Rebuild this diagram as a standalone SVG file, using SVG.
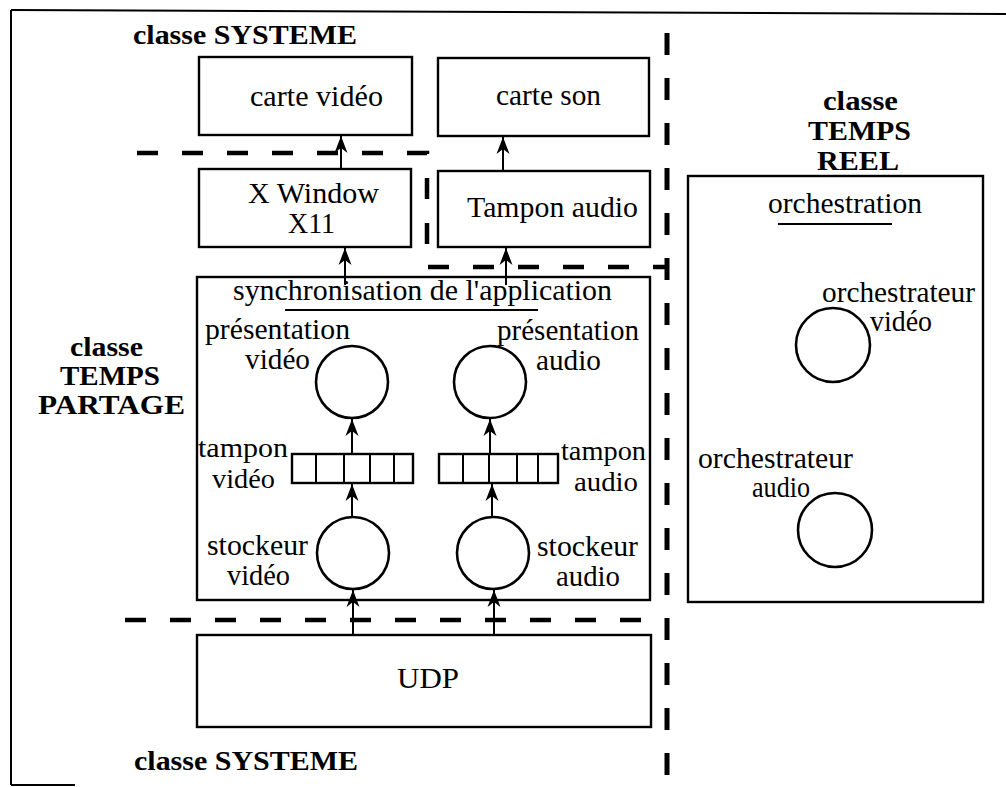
<svg xmlns="http://www.w3.org/2000/svg" width="1006" height="787" viewBox="0 0 1006 787">
<style>
text{font-family:"Liberation Serif","Times New Roman",serif;fill:#000}
.r{font-size:29px}
.s{font-size:28px}
.b{font-size:28px;font-weight:bold}
.box{fill:none;stroke:#000;stroke-width:2.4}
.circ{fill:none;stroke:#000;stroke-width:2.6}
.ln{fill:none;stroke:#000;stroke-width:2}
.arr{fill:none;stroke:#000;stroke-width:2;marker-end:url(#ah)}
.dash{fill:none;stroke:#000;stroke-width:4.5;stroke-dasharray:21 24}
.vdash{fill:none;stroke:#000;stroke-width:5;stroke-dasharray:22 23}
</style>
<defs>
<marker id="ah" markerUnits="userSpaceOnUse" markerWidth="20" markerHeight="14" viewBox="-18 -7 20 14" refX="0" refY="0" orient="auto">
<path d="M0,0 L-17,-6.5 L-12,0 L-17,6.5 Z" fill="#000"/>
</marker>
</defs>
<rect width="1006" height="787" fill="#fff"/>
<g id="frame">
<path class="ln" d="M11,10 L1006,14" stroke-width="2.5"/>
<path class="ln" d="M11,10 V785" stroke-width="2.5"/>
<path class="ln" d="M11,785 H75" stroke-width="2"/>
</g>
<g id="labels-classes">
<text class="b" x="133" y="44" textLength="224" lengthAdjust="spacingAndGlyphs">classe SYSTEME</text>
<text class="b" x="823" y="110" textLength="75" lengthAdjust="spacingAndGlyphs">classe</text>
<text class="b" x="808" y="140" textLength="103" lengthAdjust="spacingAndGlyphs">TEMPS</text>
<text class="b" x="817" y="170" textLength="82" lengthAdjust="spacingAndGlyphs">REEL</text>
<text class="b" x="70" y="356" textLength="73" lengthAdjust="spacingAndGlyphs">classe</text>
<text class="b" x="60" y="385" textLength="100" lengthAdjust="spacingAndGlyphs">TEMPS</text>
<text class="b" x="38" y="414" textLength="147" lengthAdjust="spacingAndGlyphs">PARTAGE</text>
<text class="b" x="134" y="770" textLength="224" lengthAdjust="spacingAndGlyphs">classe SYSTEME</text>
</g>
<g id="boundaries">
<path class="dash" d="M137,153 H427 V267 H667"/>
<path class="vdash" d="M667,33 V780"/>
<path class="dash" d="M125,620 H646"/>
</g>
<g id="carte-video">
<rect class="box" x="199" y="57" width="213" height="78"/>
<text class="r" x="250" y="106" textLength="133" lengthAdjust="spacingAndGlyphs">carte vidéo</text>
</g>
<g id="carte-son">
<rect class="box" x="438" y="58" width="211" height="78"/>
<text class="r" x="496" y="105" textLength="105" lengthAdjust="spacingAndGlyphs">carte son</text>
</g>
<g id="x-window">
<rect class="box" x="199" y="169" width="212" height="78"/>
<text class="r" x="248" y="203" textLength="131" lengthAdjust="spacingAndGlyphs">X Window</text>
<text class="r" x="288" y="233" textLength="47" lengthAdjust="spacingAndGlyphs">X11</text>
</g>
<g id="tampon-audio-sys">
<rect class="box" x="438" y="171" width="212" height="76"/>
<text class="r" x="467" y="217" textLength="171" lengthAdjust="spacingAndGlyphs">Tampon audio</text>
</g>
<g id="synchronisation">
<rect class="box" x="197" y="277" width="453" height="323"/>
<text class="r" x="233" y="300" textLength="379" lengthAdjust="spacingAndGlyphs">synchronisation de l'application</text>
<path class="ln" d="M285,310 H538"/>
</g>
<g id="presentation-video">
<circle class="circ" cx="352" cy="382" r="36"/>
<text class="r" x="205" y="339" textLength="145" lengthAdjust="spacingAndGlyphs">présentation</text>
<text class="r" x="245" y="369" textLength="65" lengthAdjust="spacingAndGlyphs">vidéo</text>
</g>
<g id="presentation-audio">
<circle class="circ" cx="490" cy="382" r="36"/>
<text class="r" x="497" y="340" textLength="142" lengthAdjust="spacingAndGlyphs">présentation</text>
<text class="r" x="536" y="370" textLength="65" lengthAdjust="spacingAndGlyphs">audio</text>
</g>
<g id="tampon-video">
<rect class="box" x="292" y="454" width="121" height="29"/>
<path class="ln" d="M316,454 V483 M344,454 V483 M370,454 V483 M394,454 V483"/>
<text class="s" x="198" y="457" textLength="90" lengthAdjust="spacingAndGlyphs">tampon</text>
<text class="s" x="212" y="488" textLength="63" lengthAdjust="spacingAndGlyphs">vidéo</text>
</g>
<g id="tampon-audio">
<rect class="box" x="439" y="454" width="119" height="29"/>
<path class="ln" d="M463,454 V483 M489,454 V483 M517,454 V483 M538,454 V483"/>
<text class="s" x="561" y="460" textLength="85" lengthAdjust="spacingAndGlyphs">tampon</text>
<text class="s" x="574" y="491" textLength="64" lengthAdjust="spacingAndGlyphs">audio</text>
</g>
<g id="stockeur-video">
<circle class="circ" cx="353" cy="553" r="36"/>
<text class="r" x="207" y="555" textLength="101" lengthAdjust="spacingAndGlyphs">stockeur</text>
<text class="r" x="227" y="585" textLength="63" lengthAdjust="spacingAndGlyphs">vidéo</text>
</g>
<g id="stockeur-audio">
<circle class="circ" cx="493" cy="553" r="36"/>
<text class="r" x="537" y="556" textLength="101" lengthAdjust="spacingAndGlyphs">stockeur</text>
<text class="r" x="556" y="586" textLength="64" lengthAdjust="spacingAndGlyphs">audio</text>
</g>
<g id="udp">
<rect class="box" x="197" y="635" width="454" height="92"/>
<text class="r" x="397" y="688" textLength="62" lengthAdjust="spacingAndGlyphs">UDP</text>
</g>
<g id="orchestration">
<rect class="box" x="688" y="176" width="295" height="426"/>
<text class="r" x="768" y="213" textLength="154" lengthAdjust="spacingAndGlyphs">orchestration</text>
<path class="ln" d="M778,224 H892"/>
</g>
<g id="orchestrateur-video">
<circle class="circ" cx="833" cy="345" r="37"/>
<text class="r" x="822" y="302" textLength="153" lengthAdjust="spacingAndGlyphs">orchestrateur</text>
<text class="r" x="870" y="331" textLength="62" lengthAdjust="spacingAndGlyphs">vidéo</text>
</g>
<g id="orchestrateur-audio">
<circle class="circ" cx="835" cy="530" r="37"/>
<text class="r" x="698" y="468" textLength="155" lengthAdjust="spacingAndGlyphs">orchestrateur</text>
<text class="r" x="752" y="497" textLength="58" lengthAdjust="spacingAndGlyphs">audio</text>
</g>
<g id="connectors">
<path class="arr" d="M341,169 V136"/>
<path class="arr" d="M503,171 V137"/>
<path class="arr" d="M345,285 V248"/>
<path class="arr" d="M506,285 V248"/>
<path class="arr" d="M352,454 V419"/>
<path class="arr" d="M490,454 V419"/>
<path class="arr" d="M352,517 V484"/>
<path class="arr" d="M492,517 V484"/>
<path class="arr" d="M353,635 V590"/>
<path class="arr" d="M494,635 V590"/>
</g>
</svg>
